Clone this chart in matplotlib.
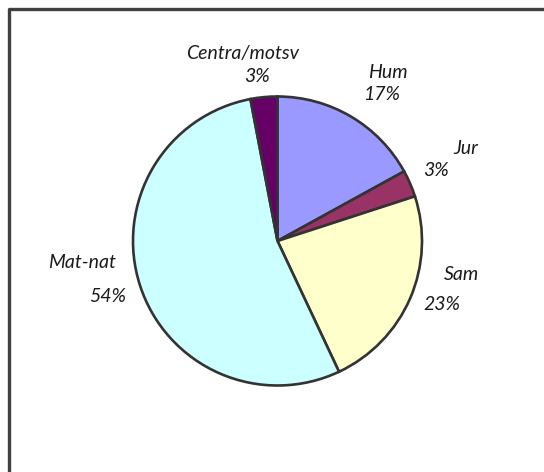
import matplotlib
matplotlib.use('Agg')
import matplotlib.pyplot as plt

# Data
faculties = ['Hum', 'Jur', 'Sam', 'Mat-nat', 'Centra/motsv']
shares = [17, 3, 23, 54, 3]
colors = ['#9999FF', '#993366', '#FFFFCC', '#CCFFFF', '#660066']

# Label positions in pixel coords (x, y from top), one per text line
name_pos = [(388, 72), (466, 148), (461, 274), (82, 263), (243, 54)]
pct_pos = [(382, 94), (436, 171), (442, 305), (108, 297), (257, 76)]

W, H = 544, 472
fig = plt.figure(figsize=(W / 100, H / 100), dpi=100)
ax = fig.add_axes([0, 0, 1, 1])

ax.pie(shares, colors=colors, startangle=90, counterclock=False,
       center=(277.5, H - 241), radius=144.5, frame=True,
       wedgeprops=dict(edgecolor='#333333', linewidth=1.9))
ax.set_xlim(0, W)
ax.set_ylim(0, H)
ax.set_aspect('equal')
ax.axis('off')

font = dict(family='Lato', style='italic', fontsize=14, color='#1a1a1a',
            ha='center', va='center')
for name, share, (nx, ny), (px, py) in zip(faculties, shares, name_pos, pct_pos):
    ax.text(nx, H - ny, name, **font)
    ax.text(px, H - py, f'{share}%', **font)

# Chart frame (only left and top edges fall inside the picture)
ax.plot([9, 9, W], [0, H - 9, H - 9], color='#404040', linewidth=2.4)

plt.savefig('out.png', dpi=100)
